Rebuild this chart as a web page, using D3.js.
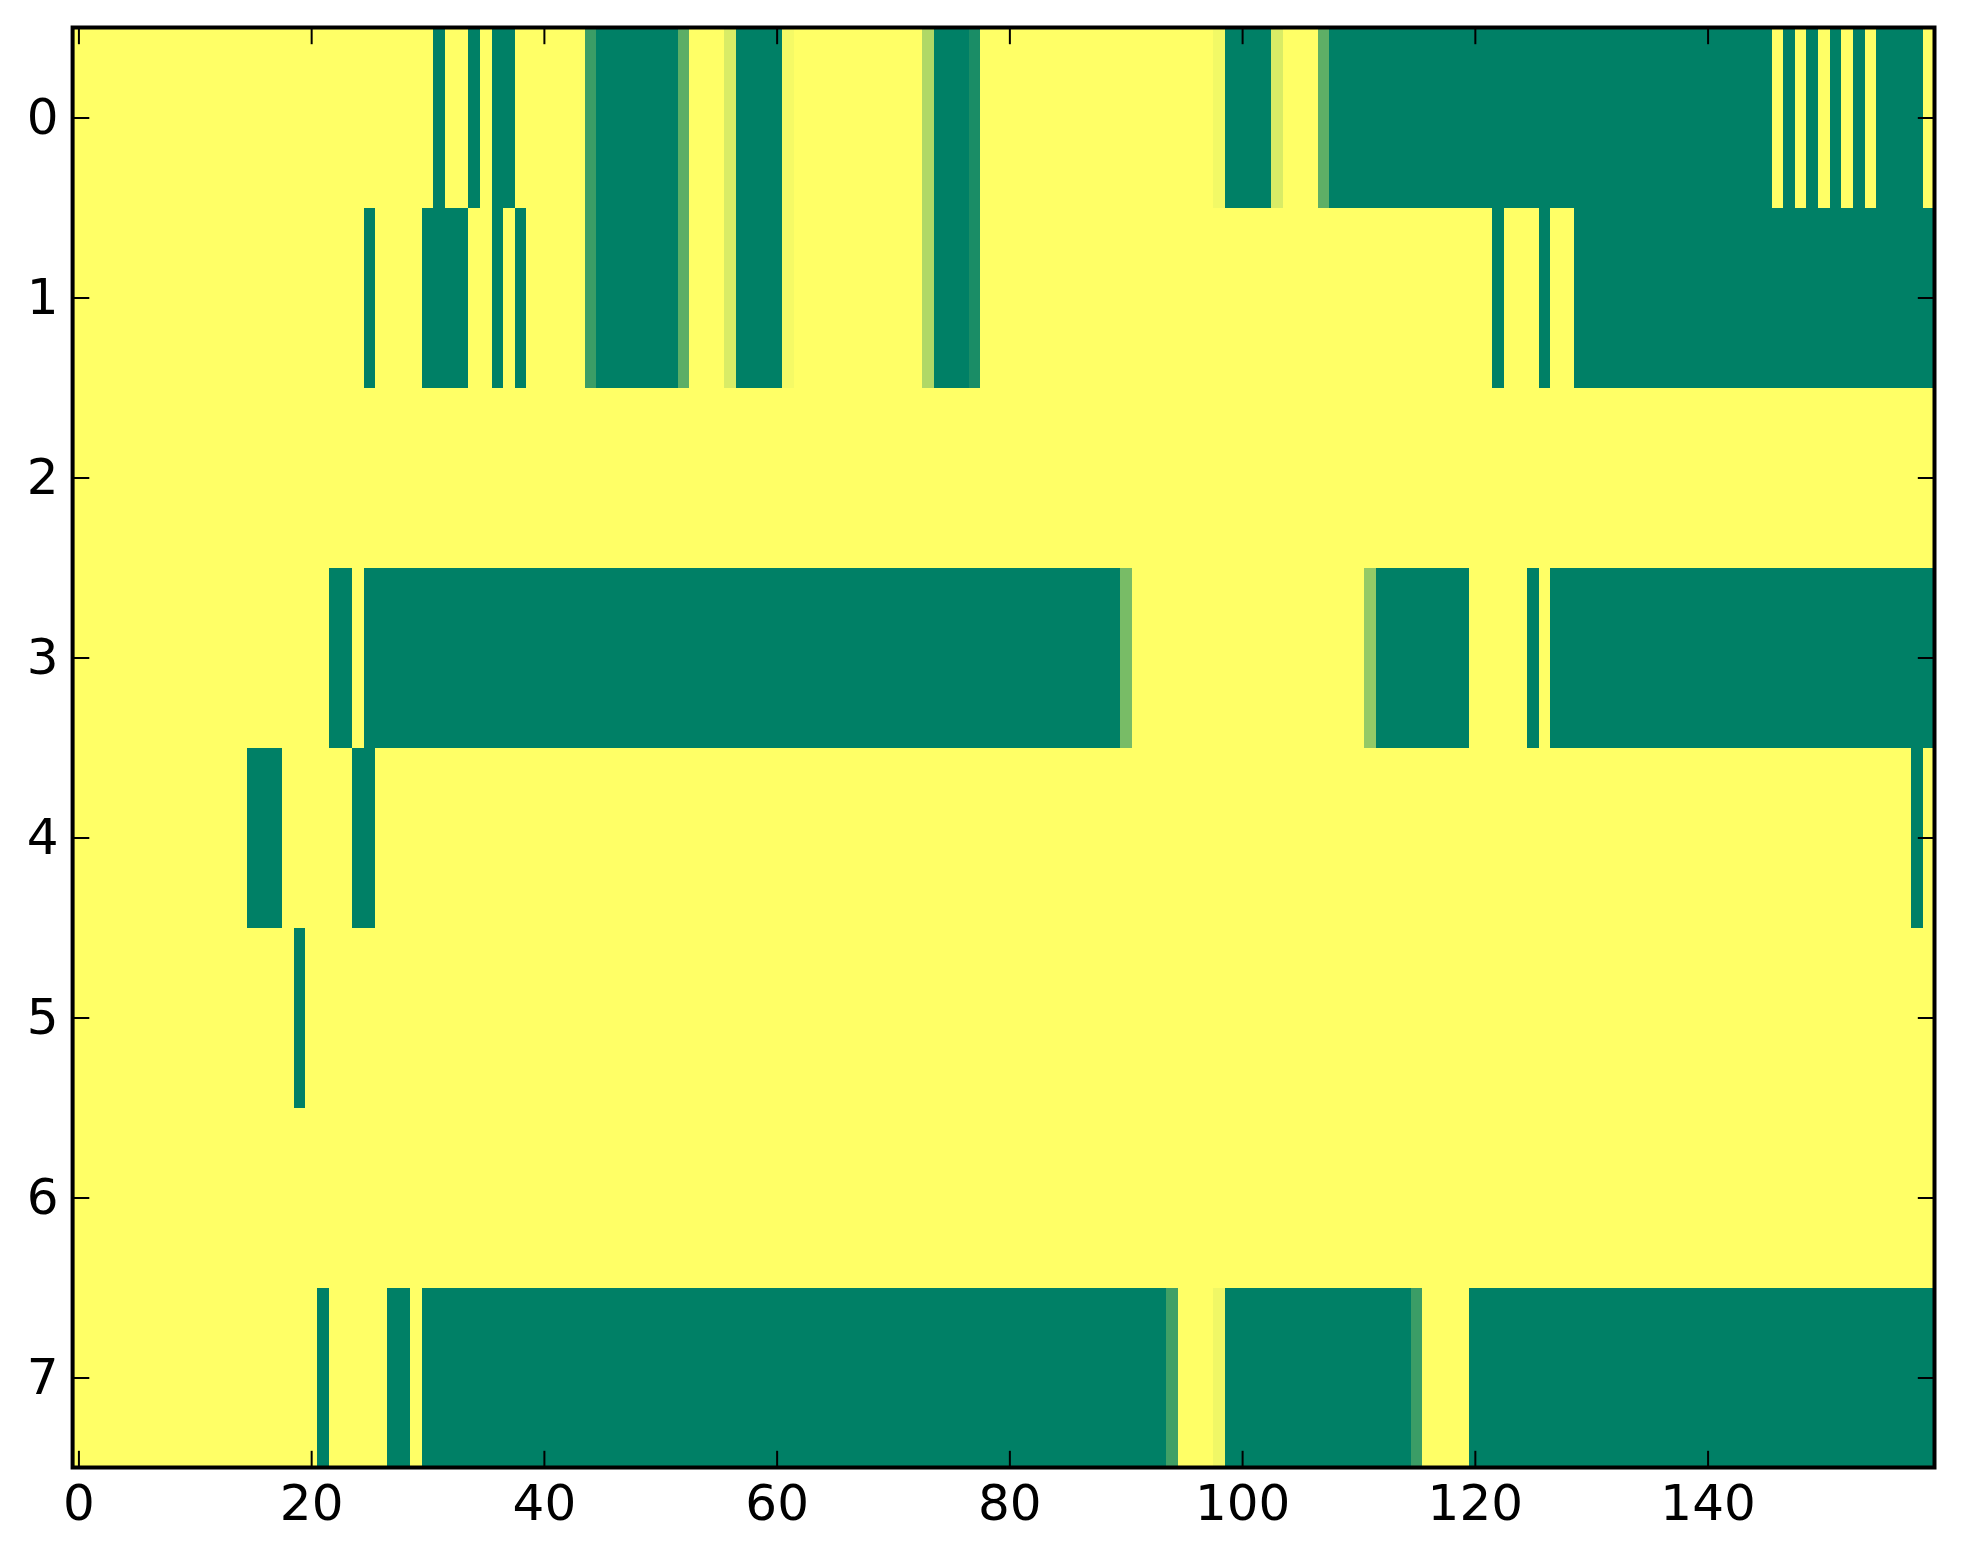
<!DOCTYPE html>
<html>
<head>
<meta charset="utf-8">
<script src="https://cdn.jsdelivr.net/npm/d3@7"></script>
<style>
  body { margin: 0; background: #fff; }
  .tick text { font-family: "DejaVu Sans", sans-serif; font-size: 50px; fill: #000; }
</style>
</head>
<body>
<div id="chart"></div>
<script>
// heatmap values, one array per row (1 = yellow, 0 = green)
var row0 = [
  1,1,1,1,1,1,1,1,1,1,1,1,1,1,1,1,1,1,1,1,
  1,1,1,1,1,1,1,1,1,1,1,0,1,1,0,1,0,0,1,1,
  1,1,1,1,.23,0,0,0,0,0,0,0,.36,1,1,1,.85,0,0,0,
  0,.96,1,1,1,1,1,1,1,1,1,1,1,.69,0,0,0,.1,1,1,
  1,1,1,1,1,1,1,1,1,1,1,1,1,1,1,1,1,1,.95,0,
  0,0,0,.85,1,1,1,.37,0,0,0,0,0,0,0,0,0,0,0,0,
  0,0,0,0,0,0,0,0,0,0,0,0,0,0,0,0,0,0,0,0,
  0,0,0,0,0,0,1,0,1,0,1,0,1,0,1,0,0,0,0,1
];
var row1 = [
  1,1,1,1,1,1,1,1,1,1,1,1,1,1,1,1,1,1,1,1,
  1,1,1,1,1,0,1,1,1,1,0,0,0,0,1,1,0,1,0,1,
  1,1,1,1,.23,0,0,0,0,0,0,0,.36,1,1,1,.85,0,0,0,
  0,.96,1,1,1,1,1,1,1,1,1,1,1,.69,0,0,0,.1,1,1,
  1,1,1,1,1,1,1,1,1,1,1,1,1,1,1,1,1,1,1,1,
  1,1,1,1,1,1,1,1,1,1,1,1,1,1,1,1,1,1,1,1,
  1,1,0,1,1,1,0,1,1,0,0,0,0,0,0,0,0,0,0,0,
  0,0,0,0,0,0,0,0,0,0,0,0,0,0,0,0,0,0,0,0
];
var row2 = [
  1,1,1,1,1,1,1,1,1,1,1,1,1,1,1,1,1,1,1,1,
  1,1,1,1,1,1,1,1,1,1,1,1,1,1,1,1,1,1,1,1,
  1,1,1,1,1,1,1,1,1,1,1,1,1,1,1,1,1,1,1,1,
  1,1,1,1,1,1,1,1,1,1,1,1,1,1,1,1,1,1,1,1,
  1,1,1,1,1,1,1,1,1,1,1,1,1,1,1,1,1,1,1,1,
  1,1,1,1,1,1,1,1,1,1,1,1,1,1,1,1,1,1,1,1,
  1,1,1,1,1,1,1,1,1,1,1,1,1,1,1,1,1,1,1,1,
  1,1,1,1,1,1,1,1,1,1,1,1,1,1,1,1,1,1,1,1
];
var row3 = [
  1,1,1,1,1,1,1,1,1,1,1,1,1,1,1,1,1,1,1,1,
  1,1,0,0,1,0,0,0,0,0,0,0,0,0,0,0,0,0,0,0,
  0,0,0,0,0,0,0,0,0,0,0,0,0,0,0,0,0,0,0,0,
  0,0,0,0,0,0,0,0,0,0,0,0,0,0,0,0,0,0,0,0,
  0,0,0,0,0,0,0,0,0,0,.47,1,1,1,1,1,1,1,1,1,
  1,1,1,1,1,1,1,1,1,1,1,.58,0,0,0,0,0,0,0,0,
  1,1,1,1,1,0,1,0,0,0,0,0,0,0,0,0,0,0,0,0,
  0,0,0,0,0,0,0,0,0,0,0,0,0,0,0,0,0,0,0,0
];
var row4 = [
  1,1,1,1,1,1,1,1,1,1,1,1,1,1,1,0,0,0,1,1,
  1,1,1,1,0,0,1,1,1,1,1,1,1,1,1,1,1,1,1,1,
  1,1,1,1,1,1,1,1,1,1,1,1,1,1,1,1,1,1,1,1,
  1,1,1,1,1,1,1,1,1,1,1,1,1,1,1,1,1,1,1,1,
  1,1,1,1,1,1,1,1,1,1,1,1,1,1,1,1,1,1,1,1,
  1,1,1,1,1,1,1,1,1,1,1,1,1,1,1,1,1,1,1,1,
  1,1,1,1,1,1,1,1,1,1,1,1,1,1,1,1,1,1,1,1,
  1,1,1,1,1,1,1,1,1,1,1,1,1,1,1,1,1,1,0,1
];
var row5 = [
  1,1,1,1,1,1,1,1,1,1,1,1,1,1,1,1,1,1,1,0,
  1,1,1,1,1,1,1,1,1,1,1,1,1,1,1,1,1,1,1,1,
  1,1,1,1,1,1,1,1,1,1,1,1,1,1,1,1,1,1,1,1,
  1,1,1,1,1,1,1,1,1,1,1,1,1,1,1,1,1,1,1,1,
  1,1,1,1,1,1,1,1,1,1,1,1,1,1,1,1,1,1,1,1,
  1,1,1,1,1,1,1,1,1,1,1,1,1,1,1,1,1,1,1,1,
  1,1,1,1,1,1,1,1,1,1,1,1,1,1,1,1,1,1,1,1,
  1,1,1,1,1,1,1,1,1,1,1,1,1,1,1,1,1,1,1,1
];
var row6 = [
  1,1,1,1,1,1,1,1,1,1,1,1,1,1,1,1,1,1,1,1,
  1,1,1,1,1,1,1,1,1,1,1,1,1,1,1,1,1,1,1,1,
  1,1,1,1,1,1,1,1,1,1,1,1,1,1,1,1,1,1,1,1,
  1,1,1,1,1,1,1,1,1,1,1,1,1,1,1,1,1,1,1,1,
  1,1,1,1,1,1,1,1,1,1,1,1,1,1,1,1,1,1,1,1,
  1,1,1,1,1,1,1,1,1,1,1,1,1,1,1,1,1,1,1,1,
  1,1,1,1,1,1,1,1,1,1,1,1,1,1,1,1,1,1,1,1,
  1,1,1,1,1,1,1,1,1,1,1,1,1,1,1,1,1,1,1,1
];
var row7 = [
  1,1,1,1,1,1,1,1,1,1,1,1,1,1,1,1,1,1,1,1,
  1,0,1,1,1,1,1,0,0,1,0,0,0,0,0,0,0,0,0,0,
  0,0,0,0,0,0,0,0,0,0,0,0,0,0,0,0,0,0,0,0,
  0,0,0,0,0,0,0,0,0,0,0,0,0,0,0,0,0,0,0,0,
  0,0,0,0,0,0,0,0,0,0,0,0,0,0,.25,1,1,1,.94,0,
  0,0,0,0,0,0,0,0,0,0,0,0,0,0,0,.23,1,1,1,1,
  0,0,0,0,0,0,0,0,0,0,0,0,0,0,0,0,0,0,0,0,
  0,0,0,0,0,0,0,0,0,0,0,0,0,0,0,0,0,0,0,0
];
var rows = [row0, row1, row2, row3, row4, row5, row6, row7];

var xTicks = [0, 20, 40, 60, 80, 100, 120, 140];
var yTicks = [0, 1, 2, 3, 4, 5, 6, 7];

var svgWidth = 1963;
var svgHeight = 1564;

var margin = {
  top: 27.5,
  right: 28.5,
  bottom: 96.5,
  left: 72.6
};

var width = svgWidth - margin.left - margin.right;
var height = svgHeight - margin.top - margin.bottom;
var tickLen = 16.7;

var svg = d3.select("#chart")
  .append("svg")
  .attr("width", svgWidth)
  .attr("height", svgHeight);

var chartGroup = svg.append("g")
  .attr("transform", `translate(${margin.left}, ${margin.top})`);

// scales in cell units, like imshow extent
var xScale = d3.scaleLinear()
  .domain([-0.5, rows[0].length - 0.5])
  .range([0, width]);

var yScale = d3.scaleLinear()
  .domain([-0.5, rows.length - 0.5])
  .range([0, height]);

// matplotlib "summer" colormap
var colorScale = d3.scaleLinear()
  .domain([0, 1])
  .range(["rgb(0,128,102)", "rgb(255,255,102)"])
  .interpolate(d3.interpolateRgb);

// flatten to cells
var cells = [];
rows.forEach(function(row, r) {
  row.forEach(function(v, c) {
    cells.push({ row: r, col: c, value: v });
  });
});

chartGroup.append("g")
  .selectAll("rect")
  .data(cells)
  .enter()
  .append("rect")
  .attr("x", d => xScale(d.col - 0.5))
  .attr("y", d => yScale(d.row - 0.5))
  .attr("width", d => xScale(d.col + 0.5) - xScale(d.col - 0.5) + 0.5)
  .attr("height", d => yScale(d.row + 0.5) - yScale(d.row - 0.5) + 0.5)
  .attr("fill", d => colorScale(d.value))
  .attr("shape-rendering", "crispEdges");

// axes with inward ticks on all four sides
var bottomAxis = d3.axisBottom(xScale).tickValues(xTicks).tickSize(-tickLen).tickPadding(17);
var topAxis = d3.axisTop(xScale).tickValues(xTicks).tickSize(-tickLen).tickFormat("");
var leftAxis = d3.axisLeft(yScale).tickValues(yTicks).tickSize(-tickLen).tickPadding(14);
var rightAxis = d3.axisRight(yScale).tickValues(yTicks).tickSize(-tickLen).tickFormat("");

chartGroup.append("g")
  .attr("transform", `translate(0, ${height})`)
  .call(bottomAxis);

chartGroup.append("g")
  .call(topAxis);

chartGroup.append("g")
  .call(leftAxis);

chartGroup.append("g")
  .attr("transform", `translate(${width}, 0)`)
  .call(rightAxis);

chartGroup.selectAll(".domain").remove();
chartGroup.selectAll(".tick line")
  .attr("stroke", "#000")
  .attr("stroke-width", 2);

chartGroup.selectAll(".tick text")
  .attr("fill", "#000");

// frame
chartGroup.append("rect")
  .attr("x", 0)
  .attr("y", 0)
  .attr("width", width)
  .attr("height", height)
  .attr("fill", "none")
  .attr("stroke", "#000")
  .attr("stroke-width", 4);
</script>
</body>
</html>
